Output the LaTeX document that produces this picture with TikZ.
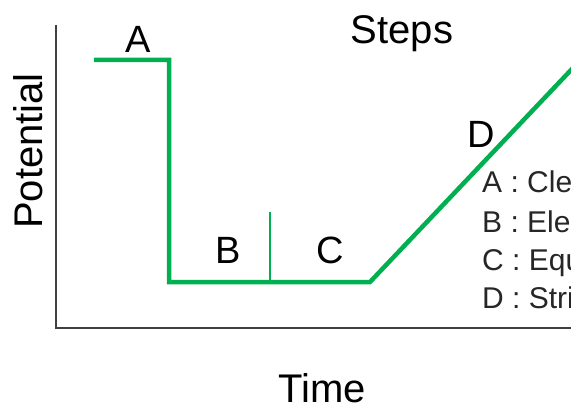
\documentclass[tikz,border=0pt]{standalone}
\usepackage{fontspec}
\setmainfont{Liberation Sans}
\definecolor{curvegreen}{RGB}{0,176,80}
\definecolor{axisgray}{RGB}{64,64,64}
\begin{document}
\begin{tikzpicture}[x=1pt,y=-1pt,
  axisline/.style={draw=axisgray,line width=1.6pt},
  curve/.style={draw=curvegreen,line width=4.5pt,line join=miter},
  divider/.style={draw=curvegreen,line width=1.6pt},
  biglabel/.style={font=\fontsize{40}{44}\selectfont,inner sep=0pt,anchor=base},
  steplabel/.style={font=\fontsize{38}{42}\selectfont,inner sep=0pt,anchor=base},
  legend/.style={font=\fontsize{30}{34}\selectfont,text=black!85,inner sep=0pt,anchor=base west}]
\useasboundingbox (0,0) rectangle (571,404);
\clip (0,0) rectangle (571,404);
% axes
\coordinate (ytop) at (56,25);
\coordinate (origin) at (56,328);
\coordinate (xend) at (575,328);
\draw[axisline] (ytop) -- (origin) -- (xend);
% curve
\coordinate (a0) at (94,60);
\coordinate (a1) at (169,60);
\coordinate (b0) at (169,282);
\coordinate (c1) at (370,282);
\coordinate (d1) at (600,39.4);
\draw[curve] (a0) -- (a1) -- (b0) -- (c1) -- (d1);
% divider between B and C
\coordinate (m0) at (270,212);
\coordinate (m1) at (270,282);
\draw[divider] (m0) -- (m1);
% titles
\node[biglabel] (title) at (402,44) {Steps};
\node[biglabel] (xlab) at (322,402) {Time};
\node[biglabel,rotate=90] (ylab) at (42,151) {Potential};
% segment labels
\node[steplabel] (la) at (138,53) {A};
\node[steplabel] (lb) at (228,263) {B};
\node[steplabel] (lc) at (330,263) {C};
\node[steplabel] (ld) at (481,147) {D};
% legend (cut by the picture edge)
\node[legend] (ga) at (482,193) {A : Cle};
\node[legend] (gb) at (482,232) {B : Ele};
\node[legend] (gc) at (482,270) {C : Equ};
\node[legend] (gd) at (482,308) {D : Stri};
\end{tikzpicture}
\end{document}
